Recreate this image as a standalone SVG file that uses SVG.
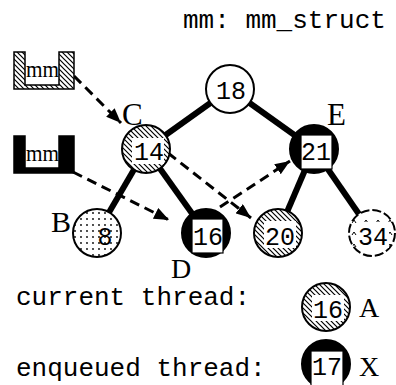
<svg xmlns="http://www.w3.org/2000/svg" width="396" height="385" viewBox="0 0 396 385">
  <style>
    .mono { font-family: "Liberation Mono", "Courier New", monospace; fill: #000; }
    .num { font-family: "Liberation Mono", "Courier New", monospace; font-size: 25px; text-anchor: middle; fill: #000; }
    .serif { font-family: "Liberation Serif", "Times New Roman", serif; fill: #000; }
    .edge { stroke: #000; stroke-width: 6; stroke-linecap: butt; fill: none; }
    .ptr { stroke: #000; stroke-width: 3; stroke-dasharray: 10 6; fill: none; marker-end: url(#arrow); }
    .plain { fill: #fff; stroke: #000; stroke-width: 2; }
    .cur { fill: url(#hatch); stroke: #000; stroke-width: 2; }
    .enq { fill: #000; stroke: #000; stroke-width: 2; }
    .enqbox { fill: #fff; stroke: #000; stroke-width: 1.2; }
    .whitebox { fill: #fff; stroke: none; }
  </style>
  <defs>
    <pattern id="hatch" patternUnits="userSpaceOnUse" width="5" height="5">
      <rect width="5" height="5" fill="#fff"/>
      <path d="M0,0 L5,5 M-1,4 L1,6 M4,-1 L6,1" stroke="#000" stroke-width="1.2"/>
    </pattern>
    <pattern id="dots" patternUnits="userSpaceOnUse" width="6" height="6">
      <rect width="6" height="6" fill="#fff"/>
      <circle cx="3" cy="3" r="0.9" fill="#000"/>
    </pattern>
    <pattern id="carets" patternUnits="userSpaceOnUse" width="12" height="12">
      <rect width="12" height="12" fill="#fff"/>
      <path d="M4,7 L6,4 L8,7" stroke="#000" stroke-width="1" fill="none"/>
    </pattern>
    <marker id="arrow" markerUnits="userSpaceOnUse" markerWidth="16" markerHeight="12" refX="15" refY="6" orient="auto">
      <path d="M0,0 L15,6 L0,12 Z" fill="#000"/>
    </marker>
  </defs>

  <text class="mono" x="183" y="28" font-size="26">mm: mm_struct</text>

  <g id="connectors">
    <line class="edge" x1="230" y1="89" x2="146" y2="149"/>
    <line class="edge" x1="230" y1="89" x2="314" y2="149"/>
    <line class="edge" x1="146" y1="149" x2="97" y2="233"/>
    <line class="edge" x1="146" y1="149" x2="206" y2="233"/>
    <line class="edge" x1="314" y1="149" x2="278" y2="233"/>
    <line class="edge" x1="314" y1="149" x2="372" y2="233"/>
    <line class="ptr" x1="74" y1="76" x2="121" y2="123"/>
    <line class="ptr" x1="73" y1="172" x2="169" y2="220"/>
    <line class="ptr" x1="168" y1="153" x2="251" y2="218"/>
    <line class="ptr" x1="220" y1="207" x2="290" y2="161"/>
  </g>

  <g id="mm-current">
    <path d="M14,52 H25 V85 H59 V52 H74 V89 H14 Z" fill="url(#hatch)" stroke="#000" stroke-width="1.5"/>
    <text class="serif" x="26" y="77" font-size="24" textLength="33" lengthAdjust="spacingAndGlyphs">mm</text>
  </g>
  <g id="mm-enqueued">
    <path d="M14,136 H25 V168 H59 V136 H74 V173 H14 Z" fill="#000" stroke="#000" stroke-width="1.5"/>
    <text class="serif" x="26" y="161" font-size="24" textLength="33" lengthAdjust="spacingAndGlyphs">mm</text>
  </g>

  <g id="node-18">
    <circle class="plain" cx="230" cy="89" r="24"/>
    <text class="num" x="231" y="99">18</text>
  </g>

  <g id="node-C">
    <circle class="cur" cx="146" cy="149" r="24"/>
    <rect class="whitebox" x="132" y="138" width="32" height="26"/>
    <text class="num" x="149" y="160">14</text>
    <text class="serif" x="122" y="125" font-size="31">C</text>
  </g>

  <g id="node-E">
    <circle class="enq" cx="314" cy="149" r="24"/>
    <rect class="enqbox" x="301" y="135" width="31" height="34"/>
    <text class="num" x="316" y="160">21</text>
    <text class="serif" x="327" y="125" font-size="31">E</text>
  </g>

  <g id="node-B">
    <circle cx="97" cy="233" r="24" fill="url(#dots)" stroke="#000" stroke-width="2"/>
    <text class="num" x="105" y="245">8</text>
    <text class="serif" x="51" y="232" font-size="30">B</text>
  </g>

  <g id="node-D">
    <circle class="enq" cx="206" cy="233" r="24"/>
    <rect class="enqbox" x="192" y="219" width="31" height="34"/>
    <text class="num" x="208" y="245">16</text>
    <text class="serif" x="171" y="278" font-size="28">D</text>
  </g>

  <g id="node-20">
    <circle class="cur" cx="278" cy="233" r="24"/>
    <rect class="whitebox" x="264" y="221" width="32" height="27"/>
    <text class="num" x="280" y="245">20</text>
  </g>

  <g id="node-34">
    <circle cx="372" cy="233" r="23" fill="url(#carets)" stroke="#000" stroke-width="2" stroke-dasharray="9 3"/>
    <rect class="whitebox" x="357" y="222" width="32" height="26"/>
    <text class="num" x="373" y="245">34</text>
  </g>

  <g id="legend-current">
    <text class="mono" x="16" y="305" font-size="26">current thread:</text>
    <circle class="cur" cx="326" cy="307" r="24"/>
    <rect class="whitebox" x="312" y="295" width="32" height="26"/>
    <text class="num" x="328" y="318">16</text>
    <text class="serif" x="359" y="317" font-size="28">A</text>
  </g>

  <g id="legend-enqueued">
    <text class="mono" x="16" y="376" font-size="26">enqueued thread:</text>
    <circle class="enq" cx="326" cy="364" r="24"/>
    <rect class="enqbox" x="311" y="351" width="32" height="36"/>
    <text class="num" x="327" y="375">17</text>
    <text class="serif" x="359" y="376" font-size="28">X</text>
  </g>
</svg>
